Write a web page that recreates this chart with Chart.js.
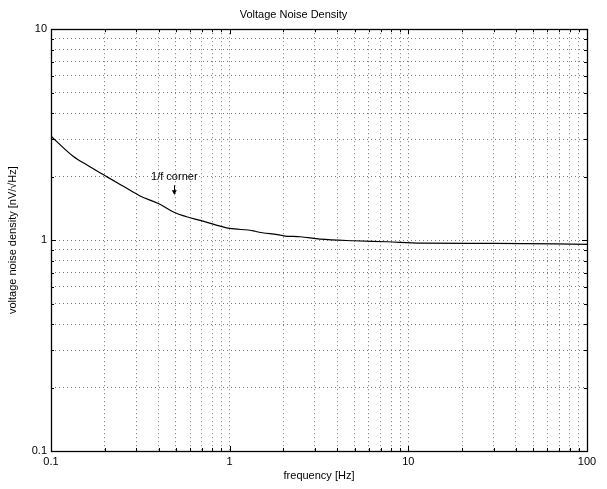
<!DOCTYPE html>
<html>
<head>
<meta charset="utf-8">
<script src="https://cdn.jsdelivr.net/npm/chart.js@4/dist/chart.umd.min.js"></script>
<style>
  body { margin: 0; background: #fff; }
  #wrap { width: 607px; height: 489px; }
</style>
</head>
<body>
<div id="wrap"><canvas id="ch1" width="607" height="489"></canvas></div>
<script>
// data (frequency in Hz, noise in nV/sqrtHz)
var freq = [0.1, 0.133, 0.165, 0.205, 0.254, 0.315, 0.399, 0.484, 0.575, 0.684, 0.885, 1.0, 1.36, 1.42, 1.92, 2.0, 2.49, 3.21, 4.94, 7.6, 11.7, 30, 100];
var noise = [3.11, 2.50, 2.23, 2.00, 1.80, 1.62, 1.49, 1.36, 1.29, 1.24, 1.165, 1.136, 1.107, 1.095, 1.056, 1.048, 1.037, 1.011, 0.993, 0.982, 0.968, 0.965, 0.955];

var xTickLabels = [0.1, 1, 10, 100];
var yTickLabels = [0.1, 1, 10];

// annotation "1/f corner"
var noteText = '1/f corner';
var noteFreq = 0.49;
var noteTextVal = 1.99;
var noteArrowTop = 1.82;
var noteArrowTip = 1.65;

var fontFam = "'Liberation Sans', Arial, Helvetica, sans-serif";
Chart.defaults.font.family = fontFam;
Chart.defaults.font.size = 11;
Chart.defaults.color = '#000';

function logTicks(min, max) { // ola ta 1..9 ana dekada
  var t = [];
  for (var d = min; d < max * 1.0001; d *= 10) {
    for (var k = 1; k <= 9; k++) {
      var v = +(k * d).toPrecision(6);
      if (v <= max * 1.0001) t.push({ value: v });
    }
  }
  return t;
}

function isMajor(v, list) {
  return list.some(function (m) { return Math.abs(m - v) / m < 1e-6; });
}

var boxPlugin = { // plaisio + mikra ticks mesa (matlab style)
  id: 'box',
  afterDraw: function (c) {
    var ctx = c.ctx, a = c.chartArea;
    var xs = c.scales.x, ys = c.scales.y;
    ctx.save();
    ctx.strokeStyle = '#000';
    ctx.lineWidth = 1;
    ctx.beginPath();
    xs.ticks.forEach(function (t) {
      var px = Math.round(xs.getPixelForValue(t.value)) + 0.5;
      var len = isMajor(t.value, xTickLabels) ? 5 : 3;
      ctx.moveTo(px, a.bottom); ctx.lineTo(px, a.bottom - len);
      ctx.moveTo(px, a.top); ctx.lineTo(px, a.top + len);
    });
    ys.ticks.forEach(function (t) {
      var py = Math.round(ys.getPixelForValue(t.value)) + 0.5;
      var len = isMajor(t.value, yTickLabels) ? 5 : 3;
      ctx.moveTo(a.left, py); ctx.lineTo(a.left + len, py);
      ctx.moveTo(a.right, py); ctx.lineTo(a.right - len, py);
    });
    ctx.stroke();
    ctx.lineWidth = 1.3;
    ctx.strokeRect(Math.round(a.left) + 0.5, Math.round(a.top) + 0.5, Math.round(a.right - a.left), Math.round(a.bottom - a.top));

    // annotation
    var nx = xs.getPixelForValue(noteFreq);
    ctx.fillStyle = '#000';
    ctx.font = '11px ' + fontFam;
    ctx.textAlign = 'center';
    ctx.textBaseline = 'middle';
    ctx.fillText(noteText, nx, ys.getPixelForValue(noteTextVal));
    var y1 = ys.getPixelForValue(noteArrowTop), y2 = ys.getPixelForValue(noteArrowTip);
    ctx.lineWidth = 1;
    ctx.beginPath();
    ctx.moveTo(Math.round(nx) + 0.5, y1); ctx.lineTo(Math.round(nx) + 0.5, y2);
    ctx.stroke();
    ctx.beginPath();
    ctx.moveTo(nx - 2.5, y2 - 4); ctx.lineTo(nx + 2.5, y2 - 4); ctx.lineTo(nx, y2 + 0.5);
    ctx.closePath();
    ctx.fill();
    ctx.restore();
  }
};

var pts = freq.map(function (f, i) { return { x: f, y: noise[i] }; });

var chart = new Chart(document.getElementById('ch1').getContext('2d'), {
  type: 'line',
  data: {
    datasets: [{
      data: pts,
      borderColor: '#000',
      borderWidth: 1.2,
      pointRadius: 0,
      tension: 0.3,
      cubicInterpolationMode: 'monotone'
    }]
  },
  options: {
    responsive: false,
    animation: false,
    layout: { padding: { left: 0, right: 20, top: 0, bottom: 0 } },
    plugins: {
      legend: { display: false },
      tooltip: { enabled: false },
      title: {
        display: true,
        text: 'Voltage Noise Density',
        font: { size: 11, weight: 'normal' },
        color: '#000',
        padding: { top: 8, bottom: 8 }
      }
    },
    scales: {
      x: {
        type: 'logarithmic',
        min: 0.1, max: 100,
        afterBuildTicks: function (s) { s.ticks = logTicks(0.1, 100); },
        afterFit: function (s) { s.height = 38; },
        ticks: {
          autoSkip: false, maxRotation: 0, padding: 4,
          callback: function (v) { return isMajor(v, xTickLabels) ? String(v) : ''; }
        },
        grid: { color: '#7a7a7a', lineWidth: 1, drawTicks: false },
        border: { display: false, dash: [1, 3] },
        title: { display: true, text: 'frequency [Hz]', padding: { top: 0, bottom: 6 } }
      },
      y: {
        type: 'logarithmic',
        min: 0.1, max: 10,
        afterBuildTicks: function (s) { s.ticks = logTicks(0.1, 10); },
        afterFit: function (s) { s.width = 51; },
        ticks: {
          autoSkip: false, padding: 4,
          callback: function (v) { return isMajor(v, yTickLabels) ? String(v) : ''; }
        },
        grid: { color: '#7a7a7a', lineWidth: 1, drawTicks: false },
        border: { display: false, dash: [1, 3] },
        title: { display: true, text: 'voltage noise density [nV/\u221AHz]', padding: { top: 6, bottom: 0 } }
      }
    }
  },
  plugins: [boxPlugin]
});
</script>
</body>
</html>
